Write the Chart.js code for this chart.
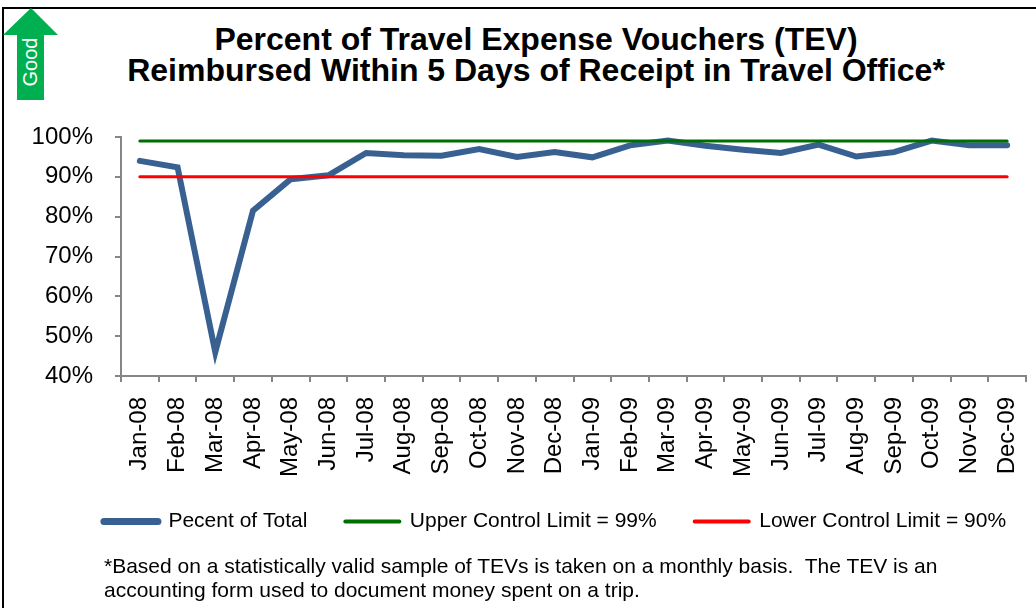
<!DOCTYPE html>
<html>
<head>
<meta charset="utf-8">
<script src="https://cdn.jsdelivr.net/npm/chart.js@4.4.1/dist/chart.umd.min.js"></script>
<style>
    body { margin: 0; background: #fff; }
    #slide {
        position: relative;
        width: 1036px;
        height: 608px;
        overflow: hidden;
        font-family: "Liberation Sans", Arial, sans-serif;
    }
    #frame {
        position: absolute;
        left: 2px;
        top: 7px;
        width: 1040px;
        height: 610px;
        border-top: 2px solid #000;
        border-left: 2px solid #000;
    }
    #myChart { position: absolute; left: 0; top: 0; }
    #title {
        position: absolute;
        left: 36px;
        top: 24px;
        width: 1000px;
        text-align: center;
        font-weight: bold;
        font-size: 32px;
        line-height: 31px;
        color: #000;
    }
    #arrow { position: absolute; left: 0; top: 0; }
    #note {
        position: absolute;
        left: 104px;
        top: 554px;
        font-size: 21px;
        line-height: 24px;
        color: #000;
    }
</style>
</head>
<body>
<div id="slide">
    <div id="frame"></div>
    <svg id="arrow" width="70" height="110">
        <polygon points="31,8 58,35 44,35 44,100 17,100 17,35 3,35" fill="#00B050"/>
        <text x="0" y="0" transform="translate(37,62) rotate(-90)" text-anchor="middle"
              font-family="Liberation Sans, Arial, sans-serif" font-size="20" fill="#fff">Good</text>
    </svg>
    <div id="title">Percent of Travel Expense Vouchers (TEV)<br>Reimbursed Within 5 Days of Receipt in Travel Office*</div>
    <canvas id="myChart" width="1036" height="608"></canvas>
    <div id="note">*Based on a statistically valid sample of TEVs is taken on a monthly basis.&nbsp; The TEV is an<br>accounting form used to document money spent on a trip.</div>
</div>
<script>
    // Months shown on the x axis
    const months = ['Jan-08', 'Feb-08', 'Mar-08', 'Apr-08', 'May-08', 'Jun-08',
        'Jul-08', 'Aug-08', 'Sep-08', 'Oct-08', 'Nov-08', 'Dec-08',
        'Jan-09', 'Feb-09', 'Mar-09', 'Apr-09', 'May-09', 'Jun-09',
        'Jul-09', 'Aug-09', 'Sep-09', 'Oct-09', 'Nov-09', 'Dec-09'];

    // Percent of TEVs reimbursed within 5 days
    const percentOfTotal = [94.0, 92.4, 46.0, 81.5, 89.4, 90.4,
        96.0, 95.4, 95.3, 97.0, 95.0, 96.2,
        94.9, 97.9, 99.1, 97.8, 96.8, 96.0,
        98.1, 95.1, 96.2, 99.1, 97.9, 97.9];

    // Control limits
    const upperLimit = [99, 99, 99, 99, 99, 99, 99, 99, 99, 99, 99, 99,
        99, 99, 99, 99, 99, 99, 99, 99, 99, 99, 99, 99];
    const lowerLimit = [90, 90, 90, 90, 90, 90, 90, 90, 90, 90, 90, 90,
        90, 90, 90, 90, 90, 90, 90, 90, 90, 90, 90, 90];

    const seriesNames = ['Pecent of Total', 'Upper Control Limit = 99%', 'Lower Control Limit = 90%'];
    const yTicks = [40, 50, 60, 70, 80, 90, 100];

    const fontFamily = '"Liberation Sans", Arial, sans-serif';
    const axisGray = '#868686';

    // legend keys are drawn a bit thicker than the plotted lines
    const legendLineWidths = [7, 4, 4];

    // the legend sits right of centre and close under the month labels
    const legendShift = {
        id: 'legendShift',
        afterLayout: function (chart) {
            const lg = chart.legend;
            lg.left += 42;
            lg.right += 42;
            lg.top -= 19;
            lg.bottom -= 19;
        }
    };

    const ctx = document.getElementById('myChart').getContext('2d');

    const myChart = new Chart(ctx, {
        type: 'line',
        data: {
            labels: months,
            datasets: [{
                label: seriesNames[0],
                data: percentOfTotal,
                borderColor: '#386192',
                backgroundColor: '#386192',
                borderWidth: 6,
                borderCapStyle: 'round',
                pointRadius: 0,
                order: 3
            }, {
                label: seriesNames[1],
                data: upperLimit,
                borderColor: '#006E00',
                backgroundColor: '#006E00',
                borderWidth: 3,
                borderCapStyle: 'round',
                pointRadius: 0,
                order: 1
            }, {
                label: seriesNames[2],
                data: lowerLimit,
                borderColor: '#FF0000',
                backgroundColor: '#FF0000',
                borderWidth: 3,
                borderCapStyle: 'round',
                pointRadius: 0,
                order: 2
            }]
        },
        plugins: [legendShift],
        options: {
            responsive: false,
            animation: false,
            layout: {
                padding: { left: 0, right: 10, top: 137, bottom: 47 }
            },
            plugins: {
                title: { display: false },
                tooltip: { enabled: false },
                legend: {
                    position: 'bottom',
                    labels: {
                        color: '#000',
                        font: { family: fontFamily, size: 21 },
                        usePointStyle: true,
                        pointStyleWidth: 54,
                        padding: 38,
                        // keep legend in dataset order, draw each key as a line
                        generateLabels: function (chart) {
                            return chart.data.datasets.map(function (ds, i) {
                                return {
                                    text: ds.label,
                                    datasetIndex: i,
                                    pointStyle: 'line',
                                    strokeStyle: ds.borderColor,
                                    fillStyle: ds.borderColor,
                                    lineWidth: legendLineWidths[i],
                                    lineCap: 'round',
                                    fontColor: '#000',
                                    hidden: false
                                };
                            });
                        }
                    }
                }
            },
            scales: {
                x: {
                    offset: true,
                    grid: {
                        offset: true,
                        drawOnChartArea: false,
                        drawTicks: true,
                        tickLength: 6,
                        color: axisGray,
                        lineWidth: 2
                    },
                    border: { color: axisGray, width: 2 },
                    ticks: {
                        color: '#000',
                        font: { family: fontFamily, size: 24 },
                        minRotation: 90,
                        maxRotation: 90,
                        autoSkip: false,
                        padding: 15
                    },
                    afterFit: function (scale) {
                        scale.height = 116;
                        scale.paddingLeft = 0;
                        scale.paddingRight = 0;
                    }
                },
                y: {
                    min: 40,
                    max: 100,
                    afterBuildTicks: function (scale) {
                        scale.ticks = yTicks.map(function (v) { return { value: v }; });
                    },
                    grid: {
                        drawOnChartArea: false,
                        drawTicks: true,
                        tickLength: 6,
                        color: axisGray,
                        lineWidth: 2
                    },
                    border: { color: axisGray, width: 2 },
                    ticks: {
                        color: '#000',
                        font: { family: fontFamily, size: 24 },
                        padding: 22,
                        callback: function (value) { return value + '%'; }
                    },
                    afterFit: function (scale) { scale.width = 121; }
                }
            }
        }
    });
</script>
</body>
</html>
